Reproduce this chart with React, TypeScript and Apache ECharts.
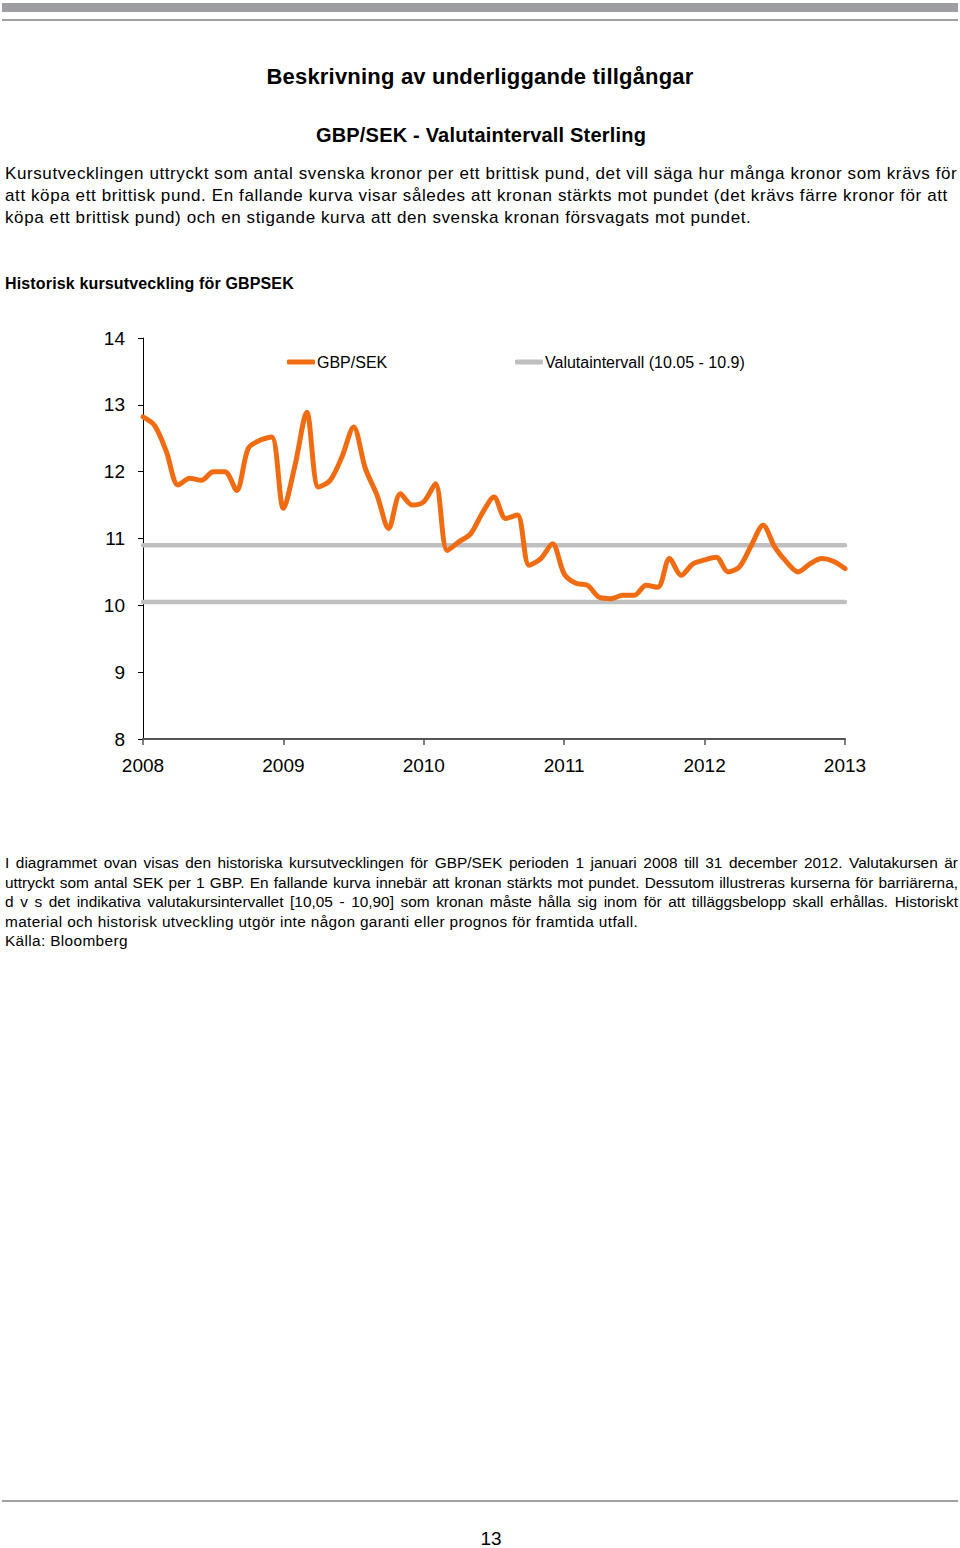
import React, { useEffect, useRef } from "react";
import * as echarts from "echarts";

const months: string[] = [
  "2008-01","2008-02","2008-03","2008-04","2008-05","2008-06","2008-07","2008-08","2008-09","2008-10","2008-11","2008-12",
  "2009-01","2009-02","2009-03","2009-04","2009-05","2009-06","2009-07","2009-08","2009-09","2009-10","2009-11","2009-12",
  "2010-01","2010-02","2010-03","2010-04","2010-05","2010-06","2010-07","2010-08","2010-09","2010-10","2010-11","2010-12",
  "2011-01","2011-02","2011-03","2011-04","2011-05","2011-06","2011-07","2011-08","2011-09","2011-10","2011-11","2011-12",
  "2012-01","2012-02","2012-03","2012-04","2012-05","2012-06","2012-07","2012-08","2012-09","2012-10","2012-11","2012-12",
  "2013-01",
];

const gbpsek: number[] = [
  12.82, 12.69, 12.3, 11.8, 11.9, 11.87, 12.0, 12.0, 11.72, 12.35, 12.47, 12.52,
  11.45, 12.1, 12.89, 11.77, 11.87, 12.22, 12.67, 12.05, 11.65, 11.15, 11.67, 11.5,
  11.55, 11.82, 10.82, 10.95, 11.07, 11.38, 11.62, 11.3, 11.35, 10.6, 10.7, 10.92,
  10.47, 10.33, 10.3, 10.12, 10.1, 10.15, 10.15, 10.3, 10.27, 10.7, 10.45, 10.62,
  10.68, 10.72, 10.5, 10.58, 10.9, 11.2, 10.87, 10.65, 10.5, 10.62, 10.7, 10.66,
  10.55,
];

const upperBarrier = 10.9;
const lowerBarrier = 10.05;
const yearTicks: number[] = [2008, 2009, 2010, 2011, 2012, 2013];
const seriesNames = ["GBP/SEK", "Valutaintervall (10.05 - 10.9)"];

const toYear = (m: string) => {
  const [y, mo] = m.split("-").map(Number);
  return y + (mo - 1) / 12;
};

const FONT = '"Liberation Sans", Arial, Helvetica, sans-serif';

function Chart() {
  const ref = useRef<HTMLDivElement>(null);
  useEffect(() => {
    if (!ref.current) return;
    const chart = echarts.init(ref.current, undefined, { renderer: "svg" });
    const first = toYear(months[0]);
    const last = toYear(months[months.length - 1]);
    const legendBase = {
      top: 54,
      padding: 0,
      icon: "roundRect",
      itemWidth: 28,
      itemHeight: 5,
      textStyle: { fontSize: 16, color: "#000", fontFamily: FONT, padding: [0, 0, 0, -3] },
    };
    chart.setOption({
      animation: false,
      textStyle: { fontFamily: FONT },
      grid: { left: 143, right: 115, top: 38, bottom: 61 },
      legend: [
        { ...legendBase, data: [seriesNames[0]], left: 287 },
        { ...legendBase, data: [seriesNames[1]], left: 515 },
      ],
      xAxis: {
        type: "value",
        min: yearTicks[0],
        max: yearTicks[yearTicks.length - 1],
        interval: 1,
        axisLine: { lineStyle: { color: "#555", width: 2 } },
        axisTick: { show: true, length: 6, lineStyle: { color: "#555", width: 1.5 } },
        axisLabel: {
          fontSize: 19,
          color: "#000",
          margin: 17,
          fontFamily: FONT,
          formatter: (v: number) => String(Math.round(v)),
        },
        splitLine: { show: false },
      },
      yAxis: {
        type: "value",
        min: 8,
        max: 14,
        interval: 1,
        axisLine: { show: true, lineStyle: { color: "#000", width: 1 } },
        axisTick: { show: true, length: 5, lineStyle: { color: "#000" } },
        axisLabel: { fontSize: 19, color: "#000", margin: 18, fontFamily: FONT },
        splitLine: { show: false },
      },
      series: [
        {
          name: seriesNames[1],
          type: "line",
          data: [[first, upperBarrier], [last, upperBarrier]],
          showSymbol: false,
          symbol: "none",
          lineStyle: { color: "#bfbfbf", width: 4.5, cap: "round" },
          itemStyle: { color: "#bfbfbf" },
        },
        {
          name: seriesNames[1],
          type: "line",
          data: [[first, lowerBarrier], [last, lowerBarrier]],
          showSymbol: false,
          symbol: "none",
          lineStyle: { color: "#bfbfbf", width: 4.5, cap: "round" },
          itemStyle: { color: "#bfbfbf" },
        },
        {
          name: seriesNames[0],
          type: "line",
          data: months.map((m, i) => [toYear(m), gbpsek[i]]),
          showSymbol: false,
          symbol: "none",
          smooth: 0.3,
          lineStyle: { color: "#ef6c12", width: 5, cap: "round", join: "round" },
          itemStyle: { color: "#ef6c12" },
          z: 3,
        },
      ],
    });
    return () => chart.dispose();
  }, []);
  return <div ref={ref} style={{ position: "absolute", left: 0, top: 300, width: 960, height: 500 }} />;
}

const para1: string[] = [
  "Kursutvecklingen uttryckt som antal svenska kronor per ett brittisk pund, det vill säga hur många kronor som krävs för",
  "att köpa ett brittisk pund. En fallande kurva visar således att kronan stärkts mot pundet (det krävs färre kronor för att",
  "köpa ett brittisk pund) och en stigande kurva att den svenska kronan försvagats mot pundet.",
];

const para2: string[] = [
  "I diagrammet ovan visas den historiska kursutvecklingen för GBP/SEK perioden 1 januari 2008 till 31 december 2012. Valutakursen är",
  "uttryckt som antal SEK per 1 GBP. En fallande kurva innebär att kronan stärkts mot pundet. Dessutom illustreras kurserna för barriärerna,",
  "d v s det indikativa valutakursintervallet [10,05 - 10,90] som kronan måste hålla sig inom för att tilläggsbelopp skall erhållas. Historiskt",
  "material och historisk utveckling utgör inte någon garanti eller prognos för framtida utfall.",
  "Källa: Bloomberg",
];

const para1Y = [174, 196, 218];
const para2Y = [863, 883, 902, 922, 941];

export default function App() {
  const line = (text: string, cy: number, size: number, extra: React.CSSProperties = {}) => (
    <div
      key={text}
      style={{
        position: "absolute",
        left: 5,
        top: cy - 12,
        height: 24,
        lineHeight: "24px",
        fontSize: size,
        whiteSpace: "nowrap",
        color: "#000",
        ...extra,
      }}
    >
      {text}
    </div>
  );
  return (
    <div
      style={{
        position: "absolute",
        left: 0,
        top: 0,
        width: 960,
        height: 1548,
        overflow: "hidden",
        background: "#fff",
        fontFamily: FONT,
      }}
    >
      <div style={{ position: "absolute", left: 2, top: 3, width: 956, height: 9, background: "#9d9ea2" }} />
      <div style={{ position: "absolute", left: 2, top: 19, width: 956, height: 2, background: "#a0a0a0" }} />
      {line("Beskrivning av underliggande tillgångar", 77, 22, {
        left: 0,
        width: 960,
        textAlign: "center",
        fontWeight: "bold",
        letterSpacing: 0.2,
      })}
      {line("GBP/SEK - Valutaintervall Sterling", 135, 20, {
        left: 0,
        width: 962,
        textAlign: "center",
        fontWeight: "bold",
        letterSpacing: 0.2,
      })}
      {para1.map((t, i) => line(t, para1Y[i], 17, { letterSpacing: 0.6 }))}
      {line("Historisk kursutveckling för GBPSEK", 284, 16, { fontWeight: "bold", letterSpacing: 0.15 })}
      <Chart />
      {para2.map((t, i) =>
        line(t, para2Y[i], 15.4, {
          width: 953,
          textAlign: i < 3 ? "justify" : "left",
          textAlignLast: i < 3 ? "justify" : "left",
          letterSpacing: i < 3 ? 0 : 0.35,
        })
      )}
      <div style={{ position: "absolute", left: 2, top: 1500, width: 956, height: 2, background: "#a0a0a0" }} />
      {line("13", 1539, 19, { left: 0, width: 982, textAlign: "center" })}
    </div>
  );
}
